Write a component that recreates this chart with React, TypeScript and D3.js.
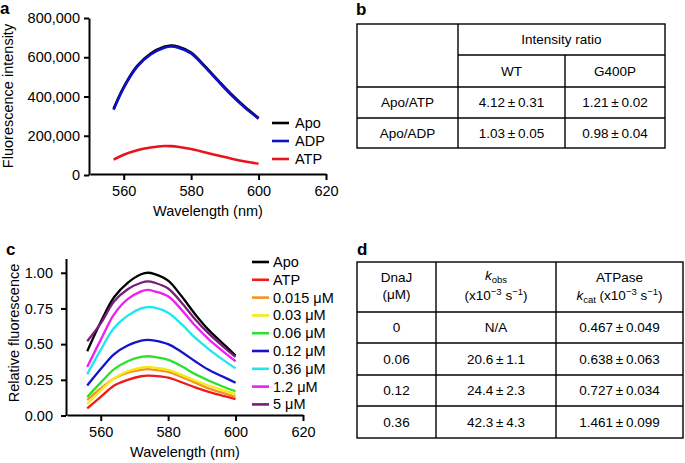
import { useEffect, useRef } from 'react'
import * as d3 from 'd3'

const FONT = '"Liberation Sans", Arial, Helvetica, sans-serif'

// panel a: fluorescence spectra
const wavelengthA = [557, 560, 564, 568, 572, 574, 576, 580, 584, 588, 592, 596, 600]
const apoA = [337000, 448000, 556000, 619000, 653000, 660000, 655000, 624000, 556000, 482000, 410000, 346000, 290000]
const adpA = [333000, 444000, 552000, 614000, 648000, 655000, 650000, 620000, 552000, 478000, 406000, 342000, 287000]
const atpA = [78000, 103000, 126000, 140000, 148000, 147000, 144000, 132000, 116000, 99000, 83000, 69000, 57000]
const namesA = ['Apo', 'ADP', 'ATP']
const colorsA = ['#000000', '#1010c8', '#e8141b']
const yTicksA = [0, 200000, 400000, 600000, 800000]
const xTicks = [560, 580, 600, 620]

// panel b: intensity ratio table
const ratioRows = ['Apo/ATP', 'Apo/ADP']
const ratioWT = ['4.12\u2009±\u20090.31', '1.03\u2009±\u20090.05']
const ratioG400P = ['1.21\u2009±\u20090.02', '0.98\u2009±\u20090.04']

// panel c: relative fluorescence with DnaJ titration
const wavelengthC = [556, 560, 564, 568, 572, 574, 576, 580, 584, 588, 592, 596, 600]
const apoC = [0.45, 0.655, 0.83, 0.93, 0.99, 1.0, 0.99, 0.945, 0.835, 0.71, 0.6, 0.51, 0.42]
const atpC = [0.05, 0.13, 0.21, 0.25, 0.275, 0.28, 0.277, 0.265, 0.233, 0.197, 0.166, 0.14, 0.115]
const c0015 = [0.11, 0.19, 0.26, 0.3, 0.32, 0.325, 0.32, 0.305, 0.27, 0.23, 0.19, 0.16, 0.13]
const c003 = [0.08, 0.175, 0.26, 0.31, 0.335, 0.34, 0.335, 0.32, 0.285, 0.245, 0.21, 0.18, 0.15]
const c006 = [0.13, 0.23, 0.325, 0.38, 0.41, 0.415, 0.41, 0.39, 0.345, 0.29, 0.245, 0.205, 0.17]
const c012 = [0.21, 0.325, 0.43, 0.49, 0.525, 0.53, 0.525, 0.5, 0.445, 0.38, 0.32, 0.275, 0.23]
const c036 = [0.29, 0.46, 0.615, 0.7, 0.75, 0.76, 0.755, 0.72, 0.64, 0.545, 0.465, 0.395, 0.33]
const c12 = [0.34, 0.53, 0.71, 0.815, 0.87, 0.88, 0.87, 0.835, 0.74, 0.63, 0.535, 0.455, 0.38]
const c5 = [0.52, 0.645, 0.8, 0.885, 0.93, 0.94, 0.93, 0.89, 0.79, 0.675, 0.575, 0.49, 0.41]
const namesC = ['Apo', 'ATP', '0.015 μM', '0.03 μM', '0.06 μM', '0.12 μM', '0.36 μM', '1.2 μM', '5 μM']
const colorsC = ['#000000', '#f01a1a', '#f7921e', '#f5ea14', '#2ee02e', '#1414cc', '#1ee6f0', '#f01ef0', '#7a1a7a']
const yTicksC = [0, 0.25, 0.5, 0.75, 1.0]

// panel d: DnaJ rates table
const dnajConc = ['0', '0.06', '0.12', '0.36']
const kObs = ['N/A', '20.6\u2009±\u20091.1', '24.4\u2009±\u20092.3', '42.3\u2009±\u20094.3']
const kCat = ['0.467\u2009±\u20090.049', '0.638\u2009±\u20090.063', '0.727\u2009±\u20090.034', '1.461\u2009±\u20090.099']

function Axis({ scale, orient, x, y, ticks, format, size, padding }) {
  const ref = useRef(null)
  useEffect(() => {
    const gen = (orient === 'left' ? d3.axisLeft(scale) : d3.axisBottom(scale))
      .tickValues(ticks)
      .tickFormat(format)
      .tickSizeInner(size)
      .tickSizeOuter(0)
      .tickPadding(padding)
    const g = d3.select(ref.current)
    g.call(gen)
    g.attr('font-family', FONT).attr('font-size', 14.5)
    g.selectAll('path, line').attr('stroke', '#000').attr('stroke-width', 2)
    g.selectAll('text').attr('fill', '#000')
  }, [scale, orient, ticks])
  return <g ref={ref} transform={`translate(${x},${y})`} />
}

function Label({ x, y, children }) {
  return (
    <text x={x} y={y} fontSize={17} fontWeight='bold' fontFamily={FONT}>{children}</text>
  )
}

export default function App() {
  // scales
  const xA = d3.scaleLinear([550, 620], [90, 326])
  const yA = d3.scaleLinear([0, 800000], [175, 18])
  const xC = d3.scaleLinear([550, 620], [67, 303])
  const yC = d3.scaleLinear([0, 1.1], [415.5, 258.5])

  const lineA = d3.line<number>()
    .x((_, i) => xA(wavelengthA[i]))
    .y(d => yA(d))
    .curve(d3.curveCatmullRom.alpha(0.5))
  const lineC = d3.line<number>()
    .x((_, i) => xC(wavelengthC[i]))
    .y(d => yC(d))
    .curve(d3.curveCatmullRom.alpha(0.5))

  const seriesA = [apoA, adpA, atpA]
  const seriesC = [apoC, atpC, c0015, c003, c006, c012, c036, c12, c5]

  // table b geometry
  const bCols = [357, 458, 565, 665]
  const bRows = [24, 55, 87, 118, 148]
  // table d geometry
  const dCols = [357, 436, 556, 683]
  const dRows = [262, 312, 343, 375, 406, 438]
  const cell = { fontFamily: FONT, fontSize: 13.5, textAnchor: 'middle' as const }
  const sw = 1.4

  return (
    <svg width={685} height={463} style={{ position: 'absolute', left: 0, top: 0, background: '#fff' }}>
      {/* panel a */}
      <Label x={0} y={14}>a</Label>
      <Axis scale={yA} orient='left' x={89} y={0} ticks={yTicksA} format={d3.format(',')} size={5} padding={4} />
      <Axis scale={xA} orient='bottom' x={0} y={174} ticks={xTicks} format={d3.format('d')} size={6} padding={6} />
      <text transform='translate(13,96) rotate(-90)' textAnchor='middle' fontFamily={FONT} fontSize={14.5}>Fluorescence intensity</text>
      <text x={208} y={216} textAnchor='middle' fontFamily={FONT} fontSize={14.5}>Wavelength (nm)</text>
      {seriesA.map((s, i) => (
        <path key={namesA[i]} d={lineA(s)} fill='none' stroke={colorsA[i]} strokeWidth={2.6} />
      ))}
      {namesA.map((n, i) => (
        <g key={n} transform={`translate(272,${123 + i * 18})`}>
          <line x1={0} x2={17} stroke={colorsA[i]} strokeWidth={2.6} />
          <text x={23} dy='0.35em' fontFamily={FONT} fontSize={14.5}>{n}</text>
        </g>
      ))}

      {/* panel b */}
      <Label x={356} y={15}>b</Label>
      <g stroke='#000' strokeWidth={sw}>
        <rect x={bCols[0]} y={bRows[0]} width={bCols[3] - bCols[0]} height={bRows[4] - bRows[0]} fill='none' />
        <line x1={bCols[1]} x2={bCols[3]} y1={bRows[1]} y2={bRows[1]} />
        {bRows.slice(2, 4).map(r => <line key={r} x1={bCols[0]} x2={bCols[3]} y1={r} y2={r} />)}
        <line x1={bCols[1]} x2={bCols[1]} y1={bRows[0]} y2={bRows[4]} />
        <line x1={bCols[2]} x2={bCols[2]} y1={bRows[1]} y2={bRows[4]} />
      </g>
      <text {...cell} x={(bCols[1] + bCols[3]) / 2} y={(bRows[0] + bRows[1]) / 2} dy='0.35em'>Intensity ratio</text>
      <text {...cell} x={(bCols[1] + bCols[2]) / 2} y={(bRows[1] + bRows[2]) / 2} dy='0.35em'>WT</text>
      <text {...cell} x={(bCols[2] + bCols[3]) / 2} y={(bRows[1] + bRows[2]) / 2} dy='0.35em'>G400P</text>
      {ratioRows.map((r, i) => {
        const cy = (bRows[i + 2] + bRows[i + 3]) / 2
        return (
          <g key={r}>
            <text {...cell} x={(bCols[0] + bCols[1]) / 2} y={cy} dy='0.35em'>{r}</text>
            <text {...cell} x={(bCols[1] + bCols[2]) / 2} y={cy} dy='0.35em'>{ratioWT[i]}</text>
            <text {...cell} x={(bCols[2] + bCols[3]) / 2} y={cy} dy='0.35em'>{ratioG400P[i]}</text>
          </g>
        )
      })}

      {/* panel c */}
      <Label x={6} y={255}>c</Label>
      <Axis scale={yC} orient='left' x={66} y={0} ticks={yTicksC} format={d3.format('.2f')} size={5} padding={8} />
      <Axis scale={xC} orient='bottom' x={0} y={415} ticks={xTicks} format={d3.format('d')} size={6} padding={6} />
      <text transform='translate(19,333) rotate(-90)' textAnchor='middle' fontFamily={FONT} fontSize={14.5}>Relative fluorescence</text>
      <text x={185} y={457} textAnchor='middle' fontFamily={FONT} fontSize={14.5}>Wavelength (nm)</text>
      {seriesC.map((s, i) => (
        <path key={namesC[i]} d={lineC(s)} fill='none' stroke={colorsC[i]} strokeWidth={2.3} />
      ))}
      {namesC.map((n, i) => (
        <g key={n} transform={`translate(252,${262 + i * 17.8})`}>
          <line x1={0} x2={17} stroke={colorsC[i]} strokeWidth={2.6} />
          <text x={21} dy='0.35em' fontFamily={FONT} fontSize={14.5}>{n}</text>
        </g>
      ))}

      {/* panel d */}
      <Label x={357} y={255}>d</Label>
      <g stroke='#000' strokeWidth={sw}>
        <rect x={dCols[0]} y={dRows[0]} width={dCols[3] - dCols[0]} height={dRows[5] - dRows[0]} fill='none' />
        {dRows.slice(1, 5).map(r => <line key={r} x1={dCols[0]} x2={dCols[3]} y1={r} y2={r} />)}
        {dCols.slice(1, 3).map(c => <line key={c} x1={c} x2={c} y1={dRows[0]} y2={dRows[5]} />)}
      </g>
      <text {...cell} x={(dCols[0] + dCols[1]) / 2} y={281.5}>DnaJ</text>
      <text {...cell} x={(dCols[0] + dCols[1]) / 2} y={299}>(μM)</text>
      <text {...cell} x={(dCols[1] + dCols[2]) / 2} y={280}>
        <tspan fontStyle='italic'>k</tspan><tspan fontSize={9.5} dy={2.5}>obs</tspan>
      </text>
      <text {...cell} x={(dCols[1] + dCols[2]) / 2} y={299.5}>
        (x10<tspan fontSize={9.5} dy={-4.5}>−3</tspan><tspan dy={4.5}> s</tspan><tspan fontSize={9.5} dy={-4.5}>−1</tspan><tspan dy={4.5}>)</tspan>
      </text>
      <text {...cell} x={(dCols[2] + dCols[3]) / 2} y={281.5}>ATPase</text>
      <text {...cell} x={(dCols[2] + dCols[3]) / 2} y={299.5}>
        <tspan fontStyle='italic'>k</tspan><tspan fontSize={9.5} dy={3}>cat</tspan><tspan dy={-3}> (x10</tspan><tspan fontSize={9.5} dy={-4.5}>−3</tspan><tspan dy={4.5}> s</tspan><tspan fontSize={9.5} dy={-4.5}>−1</tspan><tspan dy={4.5}>)</tspan>
      </text>
      {dnajConc.map((c, i) => {
        const cy = (dRows[i + 1] + dRows[i + 2]) / 2
        return (
          <g key={c}>
            <text {...cell} x={(dCols[0] + dCols[1]) / 2} y={cy} dy='0.35em'>{c}</text>
            <text {...cell} x={(dCols[1] + dCols[2]) / 2} y={cy} dy='0.35em'>{kObs[i]}</text>
            <text {...cell} x={(dCols[2] + dCols[3]) / 2} y={cy} dy='0.35em'>{kCat[i]}</text>
          </g>
        )
      })}
    </svg>
  )
}
